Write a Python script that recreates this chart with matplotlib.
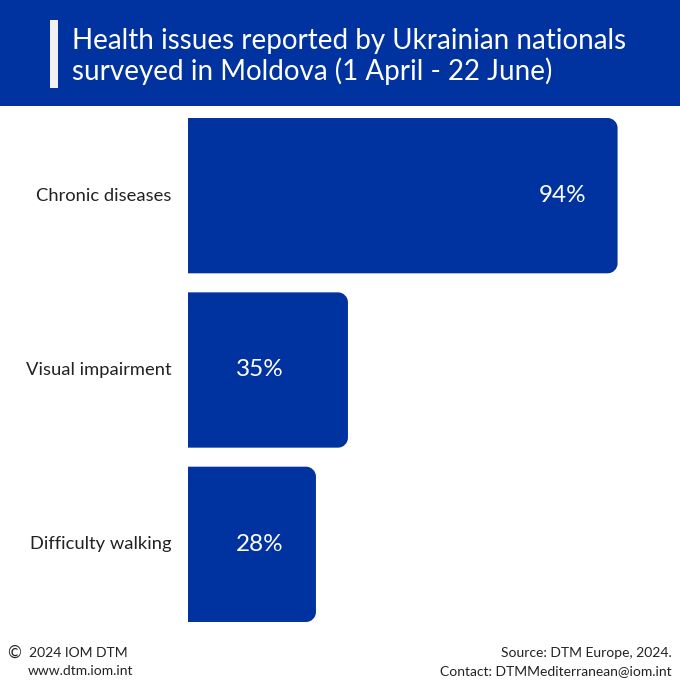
import matplotlib
matplotlib.use("Agg")
import matplotlib.pyplot as plt
from matplotlib.patches import Rectangle, PathPatch
from matplotlib.path import Path
import numpy as np

categories = ["Chronic diseases", "Visual impairment", "Difficulty walking"]
values = [94, 35, 28]
value_labels = ["94%", "35%", "28%"]
title_lines = ["Health issues reported by Ukrainian nationals",
               "surveyed in Moldova (1 April - 22 June)"]

BLUE = "#0033A0"
FONT = "Lato"
TXT = "#222222"
plt.rcParams["font.family"] = [FONT, "DejaVu Sans"]

W, H = 680, 680
fig = plt.figure(figsize=(W / 100, H / 100), dpi=100)

def fy(px):
    return 1 - px / H

def fx(px):
    return px / W

# header band
fig.patches.append(Rectangle((0, fy(106)), 1, 106 / H, transform=fig.transFigure,
                             facecolor=BLUE, edgecolor="none", zorder=0))
fig.patches.append(Rectangle((fx(50), fy(88)), 8 / W, 68 / H, transform=fig.transFigure,
                             facecolor="#f2f2f2", edgecolor="none", zorder=1))
for base, line in zip([49, 80], title_lines):
    fig.text(fx(72), fy(base), line, color="white", fontsize=20,
             ha="left", va="baseline")

# axes
ax_left, ax_right = 188, 645
ax_top, ax_bot = 108.5, 631.5
ax = fig.add_axes([fx(ax_left), fy(ax_bot), (ax_right - ax_left) / W, (ax_bot - ax_top) / H])
ax.set_xlim(0, 100)
ax.set_ylim(len(categories) - 0.5, -0.5)
ax.axis("off")

ypos = np.arange(len(categories))
bar_h = 155 / 174
bars = ax.barh(ypos, values, height=bar_h, color=BLUE)

# convert bars to shapes with rounded right corners
r_px = 10
px_per_x = (ax_right - ax_left) / 100
px_per_y = (ax_bot - ax_top) / len(categories)
rx, ry = r_px / px_per_x, r_px / px_per_y
k = 0.5523
for b in bars:
    x0, y0 = b.get_x(), b.get_y()
    x1, y1 = x0 + b.get_width(), y0 + b.get_height()
    verts = [(x0, y0), (x1 - rx, y0),
             (x1 - rx + k * rx, y0), (x1, y0 + ry - k * ry), (x1, y0 + ry),
             (x1, y1 - ry),
             (x1, y1 - ry + k * ry), (x1 - rx + k * rx, y1), (x1 - rx, y1),
             (x0, y1), (x0, y0)]
    codes = [Path.MOVETO, Path.LINETO,
             Path.CURVE4, Path.CURVE4, Path.CURVE4,
             Path.LINETO,
             Path.CURVE4, Path.CURVE4, Path.CURVE4,
             Path.LINETO, Path.CLOSEPOLY]
    ax.add_patch(PathPatch(Path(verts, codes), facecolor=BLUE, edgecolor="none"))
    b.set_visible(False)

for y, v, lab, cat in zip(ypos, values, value_labels, categories):
    if v > 50:
        ax.text(v - 6.8, y, lab, color="white", fontsize=17.5,
                ha="right", va="center")
    else:
        ax.text(10.5, y, lab, color="white", fontsize=17.5,
                ha="left", va="center")
    ax.text(-3.6, y, cat, color=TXT, fontsize=13.2,
            ha="right", va="center")

# footer
fig.text(fx(7), fy(653), "\u00a9", color=TXT, fontsize=12, ha="left", va="center")
fig.text(fx(29), fy(653), "2024 IOM DTM", color=TXT, fontsize=10,
         ha="left", va="center")
fig.text(fx(28), fy(671), "www.dtm.iom.int", color=TXT, fontsize=10,
         ha="left", va="center")
fig.text(fx(672), fy(653), "Source: DTM Europe, 2024.", color=TXT, fontsize=10,
         ha="right", va="center")
fig.text(fx(672), fy(671), "Contact: DTMMediterranean@iom.int", color=TXT, fontsize=10,
         ha="right", va="center")

fig.savefig("out.png", dpi=100, facecolor="white")
